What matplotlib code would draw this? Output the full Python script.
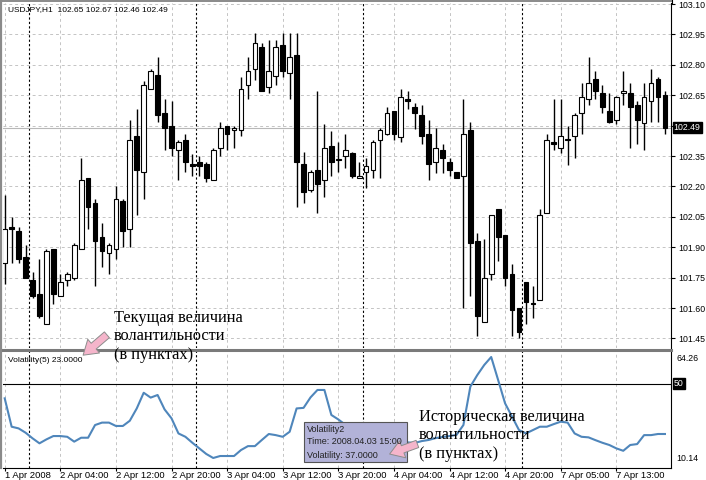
import matplotlib
matplotlib.use('Agg')
import matplotlib.pyplot as plt
import matplotlib.transforms as mtransforms
from matplotlib.patches import Rectangle, FancyArrowPatch
from matplotlib.lines import Line2D

W, H = 706, 480

# hourly USDJPY bars, 1 Apr 2008 20:00 .. 7 Apr 2008
opens = [101.82, 102.00, 101.98, 101.85, 101.74, 101.67, 101.52, 101.89, 101.66, 101.74,
         101.75, 101.89, 102.24, 102.12, 101.95, 101.87, 101.89, 102.13, 101.99, 102.45,
         102.27, 102.68, 102.75, 102.56, 102.50, 102.38, 102.43, 102.31, 102.32, 102.31,
         102.23, 102.39, 102.50, 102.48, 102.48, 102.70, 102.78, 102.89, 102.69, 102.745,
         102.90, 102.76, 102.85, 102.31, 102.18, 102.28, 102.23, 102.40, 102.335, 102.35,
         102.365, 102.24, 102.27, 102.28, 102.43, 102.46, 102.57, 102.445, 102.63, 102.59,
         102.55, 102.46, 102.32, 102.38, 102.32, 102.27, 102.25, 102.48, 101.93, 101.53,
         101.77, 102.09, 101.96, 101.77, 101.60, 101.73, 101.625, 101.64, 102.07, 102.42,
         102.39, 102.43, 102.45, 102.56, 102.63, 102.73, 102.66, 102.57, 102.53, 102.66,
         102.66, 102.60, 102.515, 102.62, 102.73, 102.65]
highs = [102.16, 102.05, 102.00, 101.91, 101.78, 101.84, 101.89, 101.89, 101.77, 101.78,
         101.92, 102.34, 102.24, 102.14, 102.02, 101.92, 102.20, 102.14, 102.53, 102.58,
         102.72, 102.78, 102.84, 102.63, 102.62, 102.43, 102.46, 102.36, 102.35, 102.32,
         102.39, 102.52, 102.50, 102.50, 102.74, 102.84, 102.955, 102.91, 102.92, 102.92,
         102.955, 102.955, 102.955, 102.37, 102.28, 102.67, 102.51, 102.475, 102.42, 102.46,
         102.37, 102.32, 102.34, 102.43, 102.49, 102.59, 102.57, 102.68, 102.67, 102.61,
         102.60, 102.53, 102.49, 102.41, 102.34, 102.27, 102.63, 102.52, 101.97, 101.94,
         102.06, 102.09, 101.96, 101.815, 101.60, 101.73, 101.71, 102.09, 102.46, 102.63,
         102.63, 102.50, 102.56, 102.71, 102.84, 102.77, 102.70, 102.66, 102.645, 102.77,
         102.71, 102.62, 102.71, 102.78, 102.74, 102.67]
lows = [101.72, 101.82, 101.82, 101.75, 101.65, 101.55, 101.52, 101.62, 101.66, 101.71,
        101.74, 101.89, 101.99, 101.71, 101.80, 101.77, 101.84, 101.90, 101.90, 102.06,
        102.14, 102.68, 102.52, 102.38, 102.35, 102.23, 102.27, 102.25, 102.25, 102.22,
        102.23, 102.35, 102.38, 102.39, 102.45, 102.63, 102.725, 102.67, 102.66, 102.70,
        102.74, 102.63, 102.10, 102.12, 102.17, 102.07, 102.15, 102.25, 102.27, 102.29,
        102.24, 102.24, 102.19, 102.24, 102.24, 102.455, 102.43, 102.42, 102.58, 102.485,
        102.41, 102.23, 102.265, 102.265, 102.25, 102.24, 101.60, 101.66, 101.46, 101.53,
        101.74, 101.83, 101.71, 101.46, 101.45, 101.52, 101.55, 101.64, 102.07, 102.38,
        102.365, 102.305, 102.34, 102.46, 102.60, 102.63, 102.56, 102.515, 102.51, 102.60,
        102.39, 102.41, 102.38, 102.52, 102.52, 102.46]
closes = [101.99, 101.99, 101.84, 101.75, 101.66, 101.56, 101.88, 101.67, 101.73, 101.77,
          101.91, 102.23, 102.10, 101.93, 101.88, 101.91, 102.14, 101.98, 102.43, 102.28,
          102.70, 102.77, 102.55, 102.49, 102.39, 102.42, 102.32, 102.30, 102.30, 102.24,
          102.38, 102.49, 102.46, 102.49, 102.68, 102.77, 102.91, 102.67, 102.77, 102.89,
          102.77, 102.84, 102.32, 102.17, 102.27, 102.21, 102.39, 102.32, 102.33, 102.38,
          102.25, 102.25, 102.30, 102.42, 102.48, 102.56, 102.46, 102.64, 102.62, 102.56,
          102.45, 102.31, 102.39, 102.34, 102.28, 102.24, 102.46, 101.92, 101.56, 101.75,
          102.06, 101.95, 101.75, 101.59, 101.48, 101.63, 101.62, 102.06, 102.43, 102.41,
          102.45, 102.43, 102.55, 102.64, 102.71, 102.67, 102.59, 102.52, 102.64, 102.67,
          102.59, 102.53, 102.64, 102.71, 102.64, 102.49]

# Volatility(5) indicator values
volatility = [42.1, 26.9, 26.0, 23.7, 20.7, 18.0, 20.1, 21.9, 21.9, 21.5,
              18.9, 21.0, 21.0, 27.8, 29.1, 29.1, 27.3, 27.3, 30.1, 36.7,
              45.1, 42.5, 43.9, 36.2, 31.4, 23.3, 21.5, 18.3, 15.3, 12.3,
              10.14, 11.2, 11.2, 11.2, 14.4, 16.5, 16.5, 19.8, 23.0, 22.4,
              21.5, 24.2, 36.7, 37.0, 42.6, 46.6, 46.6, 33.2, 30.8, 28.0,
              26.0, 24.0, 22.0, 20.5, 19.5, 20.0, 21.0, 19.5, 18.5, 18.2,
              19.2, 19.8, 20.8, 21.4, 21.9, 22.5, 27.8, 48.4, 54.6, 60.0,
              64.26, 51.9, 39.4, 32.3, 25.1, 23.3, 25.1, 26.9, 26.9, 28.3,
              29.6, 29.1, 23.3, 21.5, 21.2, 19.7, 18.3, 17.1, 15.3, 14.0,
              17.1, 17.6, 22.4, 22.4, 23.0, 23.0]

time_ticks = [0, 8, 16, 24, 32, 40, 48, 56, 64, 72, 80, 88]
time_labels = ['1 Apr 2008', '2 Apr 04:00', '2 Apr 12:00', '2 Apr 20:00', '3 Apr 04:00',
               '3 Apr 12:00', '3 Apr 20:00', '4 Apr 04:00', '4 Apr 12:00', '4 Apr 20:00',
               '7 Apr 05:00', '7 Apr 13:00']
day_breaks = [4, 28, 52, 75]
price_ticks = [101.45, 101.60, 101.75, 101.90, 102.05, 102.20, 102.35, 102.50,
               102.65, 102.80, 102.95, 103.10]
vol_min, vol_max, vol_level = 10.14, 64.26, 50

plt.rcParams['font.family'] = ['Liberation Sans', 'DejaVu Sans']

def fx(px):
    return px / W

def fy(py):
    return 1 - py / H

fig = plt.figure(figsize=(W / 100, H / 100), dpi=100)
fig.patch.set_facecolor('white')

ax1 = fig.add_axes([fx(3), fy(348), fx(671) - fx(3), fy(3) - fy(348)])
ax2 = fig.add_axes([fx(3), fy(468), fx(671) - fx(3), fy(351) - fy(468)])

grid_kw = dict(color='#c4c4c4', lw=0.7, linestyle=(0, (3, 3)), zorder=0)
sep_kw = dict(color='black', lw=0.8, linestyle=(0, (2, 2)), zorder=1)

# ---- price window
x = list(range(len(closes)))
ax1.vlines(x, lows, highs, color='black', lw=1.0, zorder=2)
bottoms = [min(o, c) for o, c in zip(opens, closes)]
heights = [max(abs(c - o), 0.004) for o, c in zip(opens, closes)]
fills = ['white' if c > o else 'black' for o, c in zip(opens, closes)]
ax1.bar(x, heights, bottom=bottoms, width=0.68, color=fills, edgecolor='black',
        lw=0.8, zorder=3)

for p in price_ticks:
    ax1.axhline(p, **grid_kw)
for t in time_ticks:
    ax1.axvline(t, **grid_kw)
    ax2.axvline(t, **grid_kw)
for d in day_breaks:
    ax1.axvline(d - 0.5, **sep_kw)
    ax2.axvline(d - 0.5, **sep_kw)
ax1.axhline(closes[-1], color='#b8b8b8', lw=0.8, zorder=1)

ax1.set_xlim(-0.245, 95.87)
ax1.set_ylim(101.4027, 103.105)
ax1.yaxis.tick_right()
ax1.set_yticks(price_ticks)
ax1.set_yticklabels(['' if abs(p - 102.50) < 1e-6 else '%.2f' % p for p in price_ticks])
ax1.tick_params(axis='y', length=3, width=0.8, labelsize=6.3, pad=2)
ax1.set_xticks([])
for s in ['top', 'left', 'bottom']:
    ax1.spines[s].set_visible(False)
ax1.spines['right'].set_linewidth(0.8)

tr1 = mtransforms.blended_transform_factory(ax1.transAxes, ax1.transData)
ax1.text(1.004, closes[-1], '%.2f' % closes[-1], transform=tr1, color='white',
         fontsize=6.3, va='center', ha='left',
         bbox=dict(facecolor='black', edgecolor='black', pad=0.8))

# ---- indicator window
ax2.plot(x, volatility, color='#4f86bb', lw=1.5, zorder=3)
ax2.axhline(vol_level, color='black', lw=0.8, zorder=2)
ax2.set_xlim(-0.245, 95.87)
ax2.set_ylim(4.775, 67.48)
ax2.yaxis.tick_right()
ax2.set_yticks([vol_min, vol_max])
ax2.set_yticklabels(['%.2f' % vol_min, '%.2f' % vol_max])
ax2.tick_params(axis='y', length=0, labelsize=6.3, pad=4)
ax2.set_xticks(time_ticks)
ax2.set_xticklabels(time_labels)
for lbl in ax2.get_xticklabels():
    lbl.set_ha('left')
ax2.tick_params(axis='x', length=2.5, width=0.8, labelsize=6.8, pad=0)
for s in ['top', 'left']:
    ax2.spines[s].set_visible(False)
ax2.spines['right'].set_linewidth(0.8)
ax2.spines['bottom'].set_linewidth(0.8)

tr2 = mtransforms.blended_transform_factory(ax2.transAxes, ax2.transData)
ax2.text(1.004, vol_level, str(vol_level), transform=tr2, color='white',
         fontsize=6.3, va='center', ha='left',
         bbox=dict(facecolor='black', edgecolor='black', pad=0.8))

# ---- window frame
fig.add_artist(Line2D([fx(0), fx(671)], [fy(349.5), fy(349.5)], color='#7a7a7a', lw=2.2))
fig.add_artist(Line2D([fx(1), fx(1)], [fy(0), fy(468)], color='#8a8a8a', lw=1.6))
fig.add_artist(Line2D([fx(0), fx(671)], [fy(1), fy(1)], color='#8a8a8a', lw=1.4))
fig.add_artist(Line2D([fx(671.5), fx(671.5)], [fy(0), fy(3)], color='black', lw=0.8))

fig.text(fx(8), fy(10), 'USDJPY,H1  %.2f %.2f %.2f %.2f' % (opens[-1], highs[-1], lows[-1], closes[-1]),
         fontsize=6, va='center', ha='left')
fig.text(fx(8), fy(361), 'Volatility(5) %.4f' % volatility[-1], fontsize=6, va='center', ha='left')

# ---- annotations
serif = ['Liberation Serif', 'DejaVu Serif']
fig.text(fx(114), fy(310), 'Текущая величина\nволантильности\n(в пунктах)', family=serif,
         fontsize=11.8, va='top', ha='left', linespacing=1.2, color='black')
fig.text(fx(419), fy(409), 'Историческая величина\nволантильности\n(в пунктах)', family=serif,
         fontsize=11.8, va='top', ha='left', linespacing=1.2, color='black')

arrow_style = 'simple,head_width=1.3,head_length=1.0,tail_width=0.55'
for a, b in [((109, 333), (81, 357)), ((420, 443), (387, 455))]:
    fig.add_artist(FancyArrowPatch((fx(a[0]), fy(a[1])), (fx(b[0]), fy(b[1])),
                                   transform=fig.transFigure, arrowstyle=arrow_style,
                                   mutation_scale=10, fc='#f5b5cb', ec='#8c8c8c', lw=0.7,
                                   zorder=6))

# tooltip
fig.add_artist(Rectangle((fx(304), fy(462)), fx(407) - fx(304), fy(422) - fy(462),
                         transform=fig.transFigure, fc='#b2b2d8', ec='#555555', lw=0.8, zorder=5))
tip = ['Volatility2', 'Time: 2008.04.03 15:00', 'Volatility: %.4f' % volatility[43]]
for k, line in enumerate(tip):
    fig.text(fx(307), fy(429 + 13 * k), line, fontsize=6.5, va='center', ha='left',
             color='#222222', zorder=6)

fig.savefig('out.png', dpi=100)
